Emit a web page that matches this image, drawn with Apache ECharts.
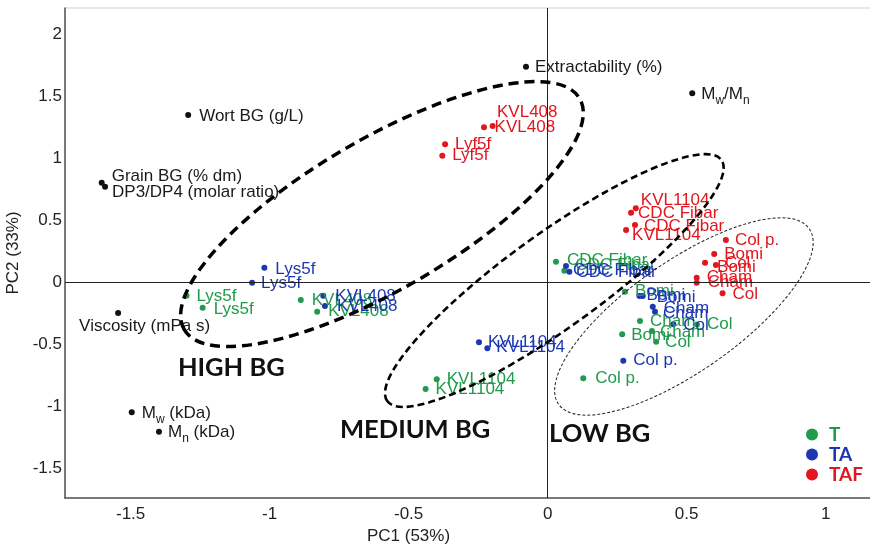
<!DOCTYPE html>
<html><head><meta charset="utf-8">
<script src="https://cdn.jsdelivr.net/npm/echarts/dist/echarts.min.js"></script>
<style>html,body{margin:0;padding:0;background:#fff}#c{width:870px;height:546px}</style>
</head><body><div id="c"></div>
<script>
// ---------------- DATA ----------------
const xTicks = [-1.5, -1, -0.5, 0, 0.5, 1];
const yTicks = [-1.5, -1, -0.5, 0, 0.5, 1, 1.5, 2];

// variable loadings (black)
const varNames = ['Extractability (%)', 'M{s|w}/M{s|n}', 'Wort BG (g/L)', 'Grain BG (% dm)',
  'DP3/DP4 (molar ratio)', 'Viscosity (mPa s)', 'M{s|w} (kDa)', 'M{s|n} (kDa)'];
const varX = [-0.078, 0.520, -1.293, -1.604, -1.592, -1.545, -1.496, -1.398];
const varY = [1.740, 1.526, 1.351, 0.805, 0.773, -0.246, -1.047, -1.203];

// T (green)
const tNames = ['Lys5f', 'Lys5f', 'KVL408', 'KVL408', 'KVL1104', 'KVL1104', 'CDC Fibar', 'CDC Fibar',
  'Bomi', 'Cham', 'Bomi', 'Cham', 'Col', 'Col', 'Col p.'];
const tX = [-1.299, -1.241, -0.888, -0.829, -0.399, -0.439, 0.030, 0.060, 0.278, 0.332, 0.268, 0.375, 0.390, 0.537, 0.128];
const tY = [-0.106, -0.203, -0.141, -0.235, -0.781, -0.859, 0.168, 0.095, -0.074, -0.310, -0.418, -0.391, -0.477, -0.339, -0.773];

// TA (blue)
const taNames = ['Lys5f', 'Lys5f', 'KVL408', 'KVL408', 'KVL1104', 'KVL1104', 'CDC Fibar', 'CDC Fibar',
  'Bomi', 'Bomi', 'Cham', 'Cham', 'Col', 'Col p.'];
const taX = [-1.019, -1.063, -0.807, -0.801, -0.247, -0.217, 0.066, 0.078, 0.330, 0.342, 0.378, 0.386, 0.452, 0.272];
const taY = [0.119, -0.002, -0.106, -0.190, -0.482, -0.531, 0.133, 0.087, -0.109, -0.109, -0.195, -0.235, -0.337, -0.631];

// TAF (red)
const tafNames = ['KVL408', 'KVL408', 'Lyf5f', 'Lyf5f', 'KVL1104', 'CDC Fibar', 'CDC Fibar', 'KVL1104',
  'Col p.', 'Bomi', 'Bomi', 'Col', 'Cham', 'Cham', 'Col'];
const tafX = [-0.198, -0.229, -0.369, -0.379, 0.317, 0.300, 0.314, 0.282, 0.641, 0.599, 0.566, 0.605, 0.536, 0.536, 0.629];
const tafY = [1.262, 1.252, 1.115, 1.023, 0.598, 0.563, 0.464, 0.423, 0.343, 0.230, 0.160, 0.141, 0.039, -0.002, -0.087];

// ---------------- STYLE / LAYOUT ----------------
const GREEN = '#1f9b4b', BLUE = '#1d37b2', RED = '#e1161f', BLACK = '#111';
const FONT = 'Liberation Sans, Arial, sans-serif';

// label offsets [dx, dy] (repel-like placement)
const varOff = [[4, 1], [4, 1], [6, 1], [5, -6], [2, 6], [-44, 13], [5, 1], [4, 1]];
const tOff = [[5, 1], [6, 2], [6, 0], [6, 0], [5, 0], [5, 0], [6, -1], [6, -5], [5, 0], [5, 0], [4, 1], [3, 1], [4, 1], [5, 0], [7, 0]];
const taOff = [[6, 2], [4, 1], [7, 1], [7, 0], [4, 0], [4, -1], [2, 4], [2, 1], [2, -1], [9, 1], [6, 2], [3, 2], [5, 1], [5, 0]];
const tafOff = [[-3, 1], [8, -15], [5, 0], [5, 0], [0, -8], [2, 1], [4, 1], [1, 5], [4, 0], [5, 0], [7, 5], [4, -2], [5, 0], [6, 0], [5, 1]];

// ellipse annotations: centre in data units, radii in px, angle in degrees (ccw)
const ELLIPSES = [
  { cx: -0.596, cy: 0.552, rx: 229, ry: 75, angle: 30.3, width: 3.5, dash: [10, 6], color: '#000' },
  { cx: 0.024, cy: 0.016, rx: 206, ry: 47, angle: 35.8, width: 2.6, dash: [7, 4], color: '#000' },
  { cx: 0.490, cy: -0.274, rx: 153, ry: 55, angle: 35, width: 1, dash: [3, 2], color: '#222' }
];
// group annotations: left edge / vertical centre in data units
const ANNOTS = [
  { text: 'HIGH BG', x: -1.330, y: -0.690 },
  { text: 'MEDIUM BG', x: -0.747, y: -1.190 },
  { text: 'LOW BG', x: 0.005, y: -1.222 }
];

function items(names, xs, ys, offs) {
  return xs.map((x, i) => ({ name: names[i], value: [x, ys[i]], label: { offset: offs[i] } }));
}
function pointSeries(name, names, xs, ys, offs, color) {
  return {
    name: name, type: 'scatter', symbol: 'circle', symbolSize: 6, z: 3,
    itemStyle: { color: color, opacity: 1 },
    label: { show: true, position: 'right', distance: 2, formatter: '{b}', color: color,
      fontFamily: FONT, fontSize: 17 },
    emphasis: { disabled: true },
    data: items(names, xs, ys, offs)
  };
}

const chart = echarts.init(document.getElementById('c'));
chart.setOption({
  animation: false,
  backgroundColor: '#fff',
  grid: { left: 65, top: 8, right: -2, bottom: 48, outerBoundsMode: 'none', containLabel: false,
    show: true, borderColor: '#d0d0d0', borderWidth: 1 },
  xAxis: {
    type: 'value', min: -1.736, max: 1.1665,
    name: 'PC1 (53%)', nameLocation: 'middle', nameGap: 29,
    nameTextStyle: { fontFamily: FONT, fontSize: 17, color: '#222', padding: [0, 120, 0, 0] },
    axisLine: { show: true, onZero: false, lineStyle: { color: '#555', width: 1.5 } },
    axisTick: { show: false }, splitLine: { show: false },
    axisLabel: { customValues: xTicks, fontFamily: FONT, fontSize: 17, color: '#222', margin: 8 }
  },
  yAxis: {
    type: 'value', min: -1.738, max: 2.214,
    name: 'PC2 (33%)', nameLocation: 'middle', nameGap: 41, nameRotate: 90,
    nameTextStyle: { fontFamily: FONT, fontSize: 17, color: '#222' },
    axisLine: { show: true, onZero: false, lineStyle: { color: '#555', width: 1.5 } },
    axisTick: { show: false }, splitLine: { show: false },
    axisLabel: { customValues: yTicks, fontFamily: FONT, fontSize: 17, color: '#222', margin: 3 }
  },
  legend: {
    data: [{ name: 'T', textStyle: { color: GREEN } }, { name: 'TA', textStyle: { color: BLUE } },
      { name: 'TAF', textStyle: { color: RED } }],
    orient: 'vertical', left: 801, top: 420, icon: 'circle', itemWidth: 12, itemHeight: 12,
    itemGap: 1, selectedMode: false,
    textStyle: { fontFamily: 'Lato', fontWeight: 'bold', fontSize: 19, padding: [0, 0, 0, 6] }
  },
  series: [
    {
      name: 'loadings', type: 'scatter', symbol: 'circle', symbolSize: 6, z: 3,
      itemStyle: { color: BLACK, opacity: 1 },
      emphasis: { disabled: true },
      label: { show: true, position: 'right', distance: 2, formatter: '{b}', color: '#1a1a1a',
        fontFamily: FONT, fontSize: 17, lineHeight: 24,
        rich: { s: { fontFamily: FONT, fontSize: 12, lineHeight: 12, verticalAlign: 'bottom', color: '#1a1a1a' } } },
      data: items(varNames, varX, varY, varOff),
      markLine: {
        silent: true, symbol: 'none', label: { show: false },
        lineStyle: { color: '#222', width: 1, type: 'solid' },
        emphasis: { disabled: true },
        data: [{ xAxis: 0 }, { yAxis: 0 }]
      }
    },
    pointSeries('T', tNames, tX, tY, tOff, GREEN),
    pointSeries('TA', taNames, taX, taY, taOff, BLUE),
    pointSeries('TAF', tafNames, tafX, tafY, tafOff, RED),
    {
      type: 'custom', coordinateSystem: 'cartesian2d', silent: true, z: 6,
      data: ELLIPSES.map(e => [e.cx, e.cy]),
      renderItem: function (params, api) {
        const e = ELLIPSES[params.dataIndex];
        const p = api.coord([api.value(0), api.value(1)]);
        return {
          type: 'ellipse', x: p[0], y: p[1], rotation: e.angle * Math.PI / 180,
          shape: { cx: 0, cy: 0, rx: e.rx, ry: e.ry },
          style: { fill: 'none', stroke: e.color, lineWidth: e.width, lineDash: e.dash }
        };
      }
    },
    {
      type: 'custom', coordinateSystem: 'cartesian2d', silent: true, z: 7,
      data: ANNOTS.map(a => [a.x, a.y]),
      renderItem: function (params, api) {
        const a = ANNOTS[params.dataIndex];
        const p = api.coord([api.value(0), api.value(1)]);
        return {
          type: 'text', x: p[0], y: p[1],
          style: { text: a.text, fill: '#111', fontFamily: 'Lato', fontWeight: 'bold', fontSize: 25.5,
            align: 'left', verticalAlign: 'middle' }
        };
      }
    }
  ]
});
</script>
</body></html>
